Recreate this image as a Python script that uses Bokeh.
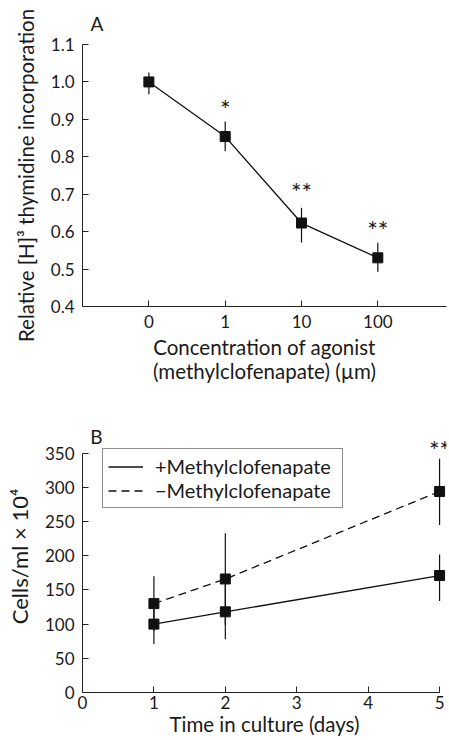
from bokeh.plotting import figure
from bokeh.layouts import column
from bokeh.models import Label, Legend, LegendItem, FixedTicker, Range1d
from bokeh.core.properties import value
from bokeh.embed import file_html
from bokeh.resources import INLINE

FONT = "Lato"
TXT = "#1a1a1a"

# ---------- Panel A data ----------
conc_labels = ["0", "1", "10", "100"]
rel_incorp = [1.00, 0.854, 0.623, 0.530]
rel_err_hi = [1.025, 0.894, 0.664, 0.570]
rel_err_lo = [0.967, 0.815, 0.571, 0.493]
a_stars = ["", "*", "**", "**"]
a_star_y = [None, 0.945, 0.721, 0.621]
a_ticks_y = [0.4, 0.5, 0.6, 0.7, 0.8, 0.9, 1.0, 1.1]

# ---------- Panel B data ----------
days = [1, 2, 5]
plus_cells = [100, 118, 171]
plus_hi = [129, 158, 202]
plus_lo = [71, 78, 134]
minus_cells = [130, 166, 294]
minus_hi = [170, 233, 342]
minus_lo = [90, 99, 245]
b_star_day = [5]
b_star_y = [364]
b_stars = ["**"]
b_ticks_x = [0, 1, 2, 3, 4, 5]
b_ticks_y = [0, 50, 100, 150, 200, 250, 300, 350]


def style(p):
    p.outline_line_color = None
    p.grid.visible = False
    p.background_fill_color = "white"
    p.border_fill_color = "white"
    for ax in (p.xaxis[0], p.yaxis[0]):
        ax.axis_line_color = "#222222"
        ax.axis_line_width = 1
        ax.major_tick_line_color = "#222222"
        ax.major_tick_in = 6
        ax.major_tick_out = 0
        ax.minor_tick_line_color = None
        ax.major_label_text_font = FONT
        ax.major_label_text_font_size = "17px"
        ax.major_label_text_color = TXT
        ax.axis_label_text_font = FONT
        ax.axis_label_text_font_size = "20.5px"
        ax.axis_label_text_font_style = "normal"
        ax.axis_label_text_color = TXT
    p.yaxis[0].major_label_standoff = 8


# ---------- Panel A ----------
xa = list(range(len(conc_labels)))
pa = figure(width=449, height=390, output_backend="svg", toolbar_location=None,
            x_range=Range1d(-0.87, 3.9), y_range=Range1d(0.4, 1.1),
            min_border_left=82, min_border_right=3, min_border_top=43, min_border_bottom=84)
style(pa)
pa.title.text = "A"
pa.title.align = "left"
pa.title.offset = 8
pa.title.standoff = 19
pa.title.text_font = FONT
pa.title.text_font_size = "19px"
pa.title.text_font_style = "normal"
pa.title.text_color = TXT
pa.xaxis[0].ticker = FixedTicker(ticks=xa)
pa.xaxis[0].major_label_overrides = {i: s for i, s in zip(xa, conc_labels)}
pa.yaxis[0].ticker = FixedTicker(ticks=a_ticks_y)
pa.yaxis[0].major_label_overrides = {t: f"{t:.1f}" for t in a_ticks_y}
pa.xaxis[0].axis_label = "Concentration of agonist\n(methylclofenapate) (\u00b5m)"
pa.xaxis[0].axis_label_text_line_height = 1.0
pa.yaxis[0].axis_label = "Relative [H]\u00b3 thymidine incorporation"
pa.yaxis[0].axis_label_standoff = 10
pa.xaxis[0].major_label_standoff = 8
pa.xaxis[0].axis_label_standoff = 4

pa.segment(x0=xa, y0=rel_err_lo, x1=xa, y1=rel_err_hi, line_color="#111111", line_width=1.2)
pa.line(xa, rel_incorp, line_color="#111111", line_width=1.3)
pa.scatter(xa, rel_incorp, marker="square", size=10, fill_color="#111111", line_color="#111111")
sx = [x for x, s in zip(xa, a_stars) if s]
sy = [y for y, s in zip(a_star_y, a_stars) if s]
st = [s for s in a_stars if s]
pa.text(sx, sy, text=st, text_align="center", text_baseline="middle", y_offset=6,
        text_font=value(FONT), text_font_size="25px", text_color=TXT)

# ---------- Panel B ----------
pb = figure(width=449, height=350, output_backend="svg", toolbar_location=None,
            x_range=Range1d(0, 5.097), y_range=Range1d(0, 397.8),
            min_border_left=82, min_border_right=0, min_border_top=30, min_border_bottom=48)
style(pb)
pb.xaxis[0].ticker = FixedTicker(ticks=b_ticks_x)
pb.yaxis[0].ticker = FixedTicker(ticks=b_ticks_y)
pb.xaxis[0].bounds = (0, 5)
pb.yaxis[0].bounds = (0, 350)
pb.xaxis[0].axis_label = "Time in culture (days)"
pb.yaxis[0].axis_label = "Cells/ml \u00d7 10\u2074"
pb.yaxis[0].axis_label_text_font_size = "22px"
pb.xaxis[0].major_label_standoff = 3
pb.xaxis[0].axis_label_standoff = 0
pb.yaxis[0].axis_label_standoff = 9

pb.segment(x0=days, y0=plus_lo, x1=days, y1=plus_hi, line_color="#111111", line_width=1.2)
pb.segment(x0=days, y0=minus_lo, x1=days, y1=minus_hi, line_color="#111111", line_width=1.2)
l_plus = pb.line(days, plus_cells, line_color="#111111", line_width=1.3)
l_minus = pb.line(days, minus_cells, line_color="#111111", line_width=1.3, line_dash="8 5")
pb.scatter(days, plus_cells, marker="square", size=10, fill_color="#111111", line_color="#111111")
pb.scatter(days, minus_cells, marker="square", size=10, fill_color="#111111", line_color="#111111")
pb.text(b_star_day, b_star_y, text=b_stars, text_align="center", text_baseline="middle", y_offset=6,
        text_font=value(FONT), text_font_size="25px", text_color=TXT)
pb.add_layout(Label(x=0.11, y=374, text="B", text_font=FONT, text_font_size="19px",
                    text_color=TXT, text_baseline="alphabetic"))

legend = Legend(items=[LegendItem(label="+Methylclofenapate", renderers=[l_plus]),
                       LegendItem(label="\u2212Methylclofenapate", renderers=[l_minus])],
                location=(20, 184), orientation="vertical")
legend.border_line_color = "#222222"
legend.border_line_width = 1
legend.background_fill_alpha = 1
legend.label_text_font = FONT
legend.label_text_font_size = "20px"
legend.label_text_color = TXT
legend.glyph_width = 35
legend.label_standoff = 12
legend.label_width = 182
legend.padding = 5
legend.spacing = 0
legend.margin = 0
legend.label_height = 23
legend.glyph_height = 23
pb.add_layout(legend, "center")

lay = column(pa, pb)
open("out.html", "w").write(file_html(lay, INLINE))
